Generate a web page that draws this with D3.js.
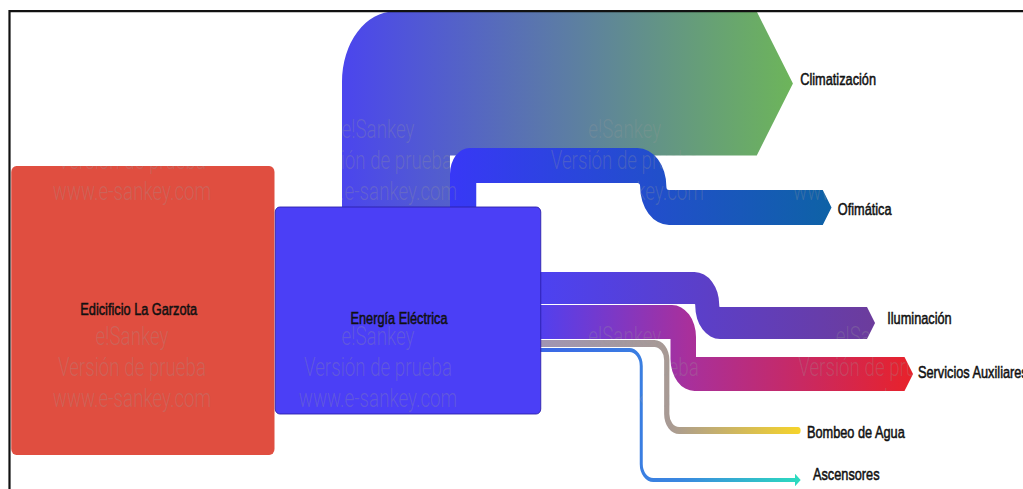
<!DOCTYPE html>
<html><head><meta charset="utf-8">
<script src="https://cdn.jsdelivr.net/npm/d3@7"></script>
<style>html,body{margin:0;padding:0;background:#fff;overflow:hidden}</style>
</head><body><svg id="c" width="1023" height="489"></svg>
<script>
// ---------- data ----------
const sourceName = "Edicificio La Garzota";
const hubName = "Energía Eléctrica";
const targets = ["Climatización", "Ofimática", "Iluminación", "Servicios Auxiliares", "Bombeo de Agua", "Ascensores"];
const values = [144, 35, 32, 34, 7, 4];
const watermarkLines = ["e!Sankey", "Versión de prueba", "www.e-sankey.com"];

// ---------- styles ----------
const gradStops = [
  [[0, "#4b45ee"], [1, "#6db55a"]],
  [[0, "#3838f6"], [1, "#0e62a6"]],
  [[0, "#4c42f2"], [1, "#6c3c9c"]],
  [[0, "#5040f0"], [0.4, "#a8309c"], [1, "#e8222a"]],
  [[0, "#a094b4"], [0.5, "#a89a94"], [1, "#f6d42a"]],
  [[0, "#3a66e6"], [0.55, "#3a88e0"], [1, "#2cdcbe"]]
];
const sourceColor = "#e04e40", hubColor = "#4b3ff6";

// ---------- layout (horizontal units are squeezed by SX) ----------
const SX = 0.75;
const layout = {
  source: {x0: 15, x1: 366, y0: 166, y1: 455, labelX: 185, labelY: 315},
  hub: {x0: 367, x1: 721, y0: 207, y1: 414, labelX: 532, labelY: 324},
  topPortX: 456, rightPortY: 272, portGap: 1,
  exits: ["top", "top", "right", "right", "right", "right"],
  targetY: [83.5, 207.5, 323, 374, 430.5, 480],
  turnX: [null, 871, 943, 911, 889, 855],
  upperY: [null, 165.5, null, null, null, null],
  endX: [1009, 1097, 1156, 1206, 1064, 1060],
  radii: [[70], [26, 38.5, 38.5], [33, 33], [32, 32], [20, 20], [18, 18]],
  endStyle: ["arrow", "arrow", "arrow", "arrow", "round", "arrow"],
  labelX: [1067, 1117, 1183, 1224, 1076, 1084],
  labelY: [85, 215, 324, 378, 438, 480],
  wmCols: [176, 504, 833, 1163],
  wmRows: [138, 345],
  wmStep: 31
};

const wScale = d3.scaleLinear().domain([0, d3.max(values)]).range([0, 144]);

// ---------- geometry helper ----------
function bandPath(pts, w, radii, endStyle, arrowHalf, arrowDepth) {
  const n = pts.length, h = w / 2;
  const dirs = [];
  for (let i = 0; i < n - 1; i++) dirs.push([Math.sign(pts[i+1][0]-pts[i][0]), Math.sign(pts[i+1][1]-pts[i][1])]);
  const off = s => pts.map((p, i) => {
    if (i === 0 || i === n - 1) { const d = dirs[i === 0 ? 0 : n - 2]; return [p[0] + s*h*d[1], p[1] - s*h*d[0]]; }
    const a = dirs[i-1], b = dirs[i];
    return [p[0] + s*h*(a[1]+b[1]), p[1] - s*h*(a[0]+b[0])];
  });
  const rad = (i, s) => {
    const a = dirs[i-1], b = dirs[i];
    const cross = a[0]*b[1] - a[1]*b[0];
    const R = radii[i-1];
    return (s*cross > 0) ? R : Math.max(0, R - w);
  };
  const Lp = off(1), Rp = off(-1);
  const p = d3.path();
  p.moveTo(Lp[0][0], Lp[0][1]);
  for (let i = 1; i < n - 1; i++) p.arcTo(Lp[i][0], Lp[i][1], Lp[i+1][0], Lp[i+1][1], rad(i, 1));
  p.lineTo(Lp[n-1][0], Lp[n-1][1]);
  const E = pts[n-1], d = dirs[n-2], nl = [d[1], -d[0]];
  if (endStyle === "round") {
    const a0 = Math.atan2(Lp[n-1][1]-E[1], Lp[n-1][0]-E[0]);
    p.arc(E[0], E[1], h, a0, a0 + Math.PI, false);
  } else {
    const ah = Math.max(h, arrowHalf || 0);
    const dep = arrowDepth || 0.67 * h;
    p.lineTo(E[0] + nl[0]*ah, E[1] + nl[1]*ah);
    p.lineTo(E[0] + d[0]*dep, E[1] + d[1]*dep);
    p.lineTo(E[0] - nl[0]*ah, E[1] - nl[1]*ah);
  }
  p.lineTo(Rp[n-1][0], Rp[n-1][1]);
  for (let i = n - 2; i >= 1; i--) p.arcTo(Rp[i][0], Rp[i][1], Rp[i-1][0], Rp[i-1][1], rad(i, -1));
  p.lineTo(Rp[0][0], Rp[0][1]);
  p.closePath();
  return p.toString();
}

// ---------- build links ----------
const links = [];
let tx = layout.topPortX, ry = layout.rightPortY;
values.forEach((v, i) => {
  const w = wScale(v);
  const ty = layout.targetY[i];
  let pts, x0;
  if (layout.exits[i] === "top") {
    const cx = tx + w/2; tx += w;
    const sy = layout.hub.y0 + 4;
    x0 = cx - w/2;
    pts = layout.upperY[i] == null
      ? [[cx, sy], [cx, ty], [layout.endX[i], ty]]
      : [[cx, sy], [cx, layout.upperY[i]], [layout.turnX[i], layout.upperY[i]], [layout.turnX[i], ty], [layout.endX[i], ty]];
  } else {
    const cy = ry + w/2; ry += w + layout.portGap;
    x0 = layout.hub.x1 - 4;
    pts = [[x0, cy], [layout.turnX[i], cy], [layout.turnX[i], ty], [layout.endX[i], ty]];
  }
  const isThin = w < 6 && layout.endStyle[i] === "arrow";
  const d = bandPath(pts, w, layout.radii[i], layout.endStyle[i], isThin ? 6.3 : 0, isThin ? 7.6 : 0);
  const tip = layout.endX[i] + (layout.endStyle[i] === "round" ? w/2 : (isThin ? 7.6 : 0.67*w/2));
  links.push({i, d, x0, tip, w});
});

// ---------- draw ----------
const svg = d3.select("#c");
const defs = svg.append("defs");
links.forEach(l => {
  const g = defs.append("linearGradient").attr("id", "g" + l.i)
    .attr("gradientUnits", "userSpaceOnUse")
    .attr("x1", l.x0).attr("x2", l.tip).attr("y1", 0).attr("y2", 0);
  gradStops[l.i].forEach(s => g.append("stop").attr("offset", s[0]).attr("stop-color", s[1]));
});

const clip = defs.append("clipPath").attr("id", "shapes");
links.forEach(l => clip.append("path").attr("d", l.d));
[layout.source, layout.hub].forEach(r => clip.append("rect")
  .attr("x", r.x0).attr("y", r.y0).attr("width", r.x1 - r.x0).attr("height", r.y1 - r.y0));

const g = svg.append("g").attr("transform", `scale(${SX},1)`);

// source node
g.append("rect").attr("x", layout.source.x0).attr("y", layout.source.y0)
  .attr("width", layout.source.x1 - layout.source.x0).attr("height", layout.source.y1 - layout.source.y0)
  .attr("rx", 7).attr("ry", 6).attr("fill", sourceColor);

// links
g.selectAll("path.link").data(links).join("path").attr("class", "link")
  .attr("d", l => l.d).attr("fill", l => `url(#g${l.i})`);

// hub node
g.append("rect").attr("x", layout.hub.x0).attr("y", layout.hub.y0)
  .attr("width", layout.hub.x1 - layout.hub.x0).attr("height", layout.hub.y1 - layout.hub.y0)
  .attr("rx", 6).attr("ry", 5).attr("fill", hubColor).attr("stroke", "#2a1fa8").attr("stroke-width", 1);

// watermark
const wm = g.append("g").attr("clip-path", "url(#shapes)")
  .attr("font-family", "Roboto, 'Liberation Sans', sans-serif").attr("font-weight", 300)
  .attr("font-size", 25).attr("text-anchor", "middle").attr("fill", "#9a9a9a").attr("fill-opacity", 0.28);
layout.wmRows.forEach(ry0 => layout.wmCols.forEach(cx => {
  watermarkLines.forEach((t, k) => wm.append("text").attr("x", cx).attr("y", ry0 + k*layout.wmStep).text(t));
}));

// labels
const lab = g.append("g").attr("font-family", "'Liberation Sans', Arial, sans-serif")
  .attr("font-size", 17).attr("fill", "#111").attr("stroke", "#111").attr("stroke-width", 0.55);
lab.append("text").attr("x", layout.source.labelX).attr("y", layout.source.labelY)
  .attr("text-anchor", "middle").text(sourceName);
lab.append("text").attr("x", layout.hub.labelX).attr("y", layout.hub.labelY)
  .attr("text-anchor", "middle").text(hubName);
targets.forEach((t, i) => lab.append("text").attr("x", layout.labelX[i]).attr("y", layout.labelY[i]).text(t));

// frame
svg.append("path").attr("d", "M9.5,489V11.2H1023").attr("fill", "none").attr("stroke", "#111").attr("stroke-width", 2.2);
</script></body></html>
